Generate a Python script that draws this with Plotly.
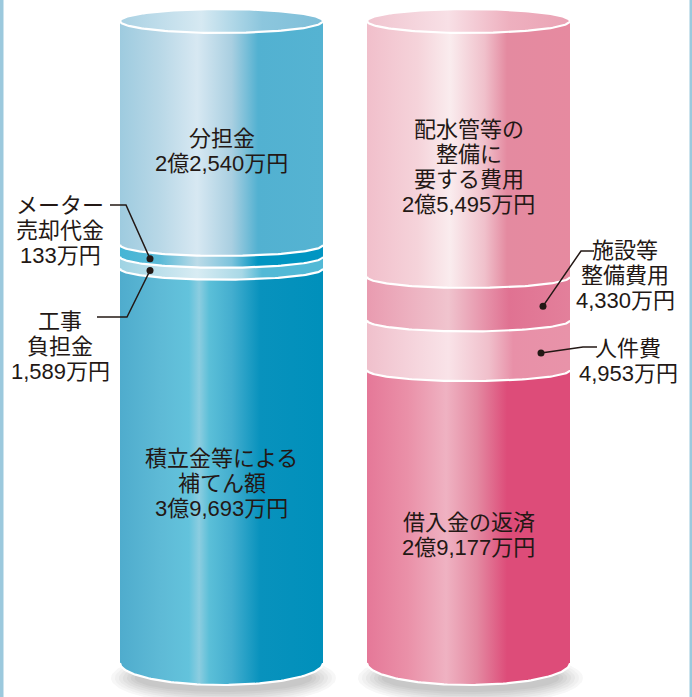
import numpy as np
import plotly.graph_objects as go

# ---------------- data (万円, stacked bottom -> top) ----------------
left_names = ["積立金等による<br>補てん額", "工事<br>負担金", "メーター<br>売却代金", "分担金"]
left_values = [39693, 1589, 133, 22540]
left_place = ["in", "out", "out", "in"]

right_names = ["借入金の返済", "人件費", "施設等<br>整備費用", "配水管等の<br>整備に<br>要する費用"]
right_values = [29177, 4953, 4330, 25495]
right_place = ["in", "out", "out", "in"]

# ---------------- styles ----------------
left_scales = [
    [[0, '#4faccd'], [0.2, '#5ebad6'], [0.34, '#63c3dc'], [0.39, '#8ccde0'], [0.44, '#5bbfd8'],
     [0.55, '#44aecf'], [0.69, '#0892bd'], [1, '#0090bb']],
    [[0, '#9fd3e3'], [0.38, '#d8ecf3'], [0.6, '#a8d8e6'], [0.7, '#52b9d6'], [1, '#52b9d6']],
    [[0, '#45b5d5'], [0.2, '#5bbad7'], [0.38, '#bcdbe8'], [0.55, '#7cc3dc'], [0.68, '#0095c2'], [1, '#0095c2']],
    [[0, '#9ecbdf'], [0.2, '#b9d8e7'], [0.38, '#d7e8f2'], [0.55, '#a9cfe1'], [0.68, '#52b1d1'], [1, '#55b3d2']],
]
left_top_scale = [[0, '#a9d1e3'], [0.4, '#d6e9f2'], [0.7, '#8cc6dd'], [1, '#7fbfd9']]

right_scales = [
    [[0, '#e57898'], [0.2, '#ea90a8'], [0.39, '#efb2c2'], [0.54, '#e48aa2'], [0.69, '#dd4c79'], [1, '#dd4c79']],
    [[0, '#f0c0cc'], [0.4, '#f9e3e8'], [0.6, '#f0bfcb'], [0.72, '#e890a8'], [1, '#e893a9']],
    [[0, '#e99bb0'], [0.4, '#f0c4ce'], [0.7, '#e07292'], [1, '#e3809b']],
    [[0, '#f1bfcb'], [0.25, '#f5d3da'], [0.41, '#faecee'], [0.58, '#f0c0cb'], [0.69, '#e48aa0'], [1, '#e68aa0']],
]
right_top_scale = [[0, '#f0c4cf'], [0.4, '#f8e0e6'], [0.7, '#eeb0bf'], [1, '#eaa3b5']]

W, H = 692, 697
TOP_PX, BOT_PX = 21, 663
R = 101.5
LEFT_CX, RIGHT_CX = 221.5, 468.5
D_TOP, D_MID, D_BOT = 12, 11, 22          # ellipse depths (px)
FONT = "Liberation Sans, Noto Sans CJK JP"
FSIZE = 22
LINE_PX = 25
TXT = "#231815"

total = float(sum(left_values))
k = total / (BOT_PX - TOP_PX)             # value units per pixel
def Y(px):
    return (BOT_PX - px) * k


def fmt(v):
    if v >= 10000:
        return f"{v // 10000}億{v % 10000:,}万円"
    return f"{v:,}万円"


def display_heights(values):
    tot = sum(values)
    band = 0.0185 * tot
    small = [v < 0.05 * tot for v in values]
    big_sum = sum(v for v, s in zip(values, small) if not s)
    rest = tot - band * sum(small)
    return [band if s else v * rest / big_sum for v, s in zip(values, small)]


# leader label layout (px): text centre, knee, end of horizontal tick
callouts = {
    ("L", 1): dict(text=(60, 346), knee=(127, 317), end=(97, 317), dotx=150),
    ("L", 2): dict(text=(60, 230), knee=(126, 205), end=(110, 205), dotx=150),
    ("R", 1): dict(text=(628, 361), knee=(583, 347), end=(597, 347), dotx=541),
    ("R", 2): dict(text=(625, 275), knee=(581, 251), end=(594, 251), dotx=543),
}

fig = go.Figure()
annotations = []
theta = np.linspace(np.pi, 0, 91)


def add_text(x, cy_px, text):
    lines = text.split("<br>")
    n = len(lines)
    for j, ln in enumerate(lines):
        ypx = cy_px + (j - (n - 1) / 2) * LINE_PX
        annotations.append(dict(x=x, y=Y(ypx), xref="x", yref="y", text=ln,
                                showarrow=False, xanchor="center", yanchor="middle",
                                font=dict(family=FONT, size=FSIZE, color=TXT)))


def front_arc(cx, yc, d):
    return cx + R * np.cos(theta), yc - d * k * np.sin(theta)


def draw_cylinder(side, cx, names, values, places, scales, top_scale):
    hs = display_heights(values)
    bounds = np.concatenate([[0], np.cumsum(hs)])
    # shadow
    scx, scy = cx + 2, Y(678)
    t = np.linspace(0, 2 * np.pi, 121)
    shades = ['#f7f7f7', '#f0f0f0', '#e8e8e8', '#e0e0e0', '#d8d8d8', '#d0d0d0', '#c8c8c8']
    for i, c in enumerate(shades):
        a = (R + 11) * (1 - 0.035 * i)
        b = 27 * (1 - 0.08 * i)
        fig.add_trace(go.Scatter(x=scx + a * np.cos(t), y=scy + b * k * np.sin(t), mode="lines",
                                 fill="toself", fillcolor=c, line=dict(width=0),
                                 hoverinfo="skip", showlegend=False))
    # segments
    n = len(values)
    for i in range(n):
        du = D_TOP if i == n - 1 else D_MID
        dl = D_BOT if i == 0 else D_MID
        xu, yu = front_arc(cx, bounds[i + 1], du)
        xl, yl = front_arc(cx, bounds[i], dl)
        xs = np.concatenate([xu, xl[::-1], xu[:1]])
        ys = np.concatenate([yu, yl[::-1], yu[:1]])
        fig.add_trace(go.Scatter(x=xs, y=ys, mode="lines", fill="toself",
                                 fillgradient=dict(type="horizontal", colorscale=scales[i]),
                                 line=dict(width=0), hoverinfo="skip", showlegend=False))
    # boundary lines
    for i in range(1, n):
        xa, ya = front_arc(cx, bounds[i], D_MID)
        fig.add_trace(go.Scatter(x=xa, y=ya, mode="lines", line=dict(color="white", width=2.2),
                                 hoverinfo="skip", showlegend=False))
    xb, yb = front_arc(cx, bounds[0], D_BOT)
    fig.add_trace(go.Scatter(x=xb, y=yb, mode="lines", line=dict(color="white", width=2.2),
                             hoverinfo="skip", showlegend=False))
    # top face
    t2 = np.linspace(0, 2 * np.pi, 181)
    fig.add_trace(go.Scatter(x=cx + R * np.cos(t2), y=bounds[-1] + D_TOP * k * np.sin(t2),
                             mode="lines", fill="toself",
                             fillgradient=dict(type="horizontal", colorscale=top_scale),
                             line=dict(color="white", width=2.2), hoverinfo="skip", showlegend=False))
    # labels
    for i in range(n):
        txt = f"{names[i]}<br>{fmt(values[i])}"
        mid = (bounds[i] + bounds[i + 1]) / 2
        if places[i] == "in":
            add_text(cx, BOT_PX - mid / k + 18, txt)
        else:
            c = callouts[(side, i)]
            dx = c["dotx"]
            off = D_MID * k * np.sqrt(max(0.0, 1 - ((dx - cx) / R) ** 2))
            dy = mid - off
            fig.add_trace(go.Scatter(x=[dx, c["knee"][0], c["end"][0]],
                                     y=[dy, Y(c["knee"][1]), Y(c["end"][1])],
                                     mode="lines", line=dict(color=TXT, width=1.5),
                                     hoverinfo="skip", showlegend=False))
            fig.add_trace(go.Scatter(x=[dx], y=[dy], mode="markers",
                                     marker=dict(color=TXT, size=7),
                                     hoverinfo="skip", showlegend=False))
            add_text(c["text"][0], c["text"][1], txt)


draw_cylinder("L", LEFT_CX, left_names, left_values, left_place, left_scales, left_top_scale)
draw_cylinder("R", RIGHT_CX, right_names, right_values, right_place, right_scales, right_top_scale)

fig.update_layout(
    width=W, height=H, margin=dict(l=0, r=0, t=0, b=0),
    paper_bgcolor="white", plot_bgcolor="white", showlegend=False,
    xaxis=dict(range=[0, W], visible=False, fixedrange=True),
    yaxis=dict(range=[Y(H), Y(0)], visible=False, fixedrange=True),
    annotations=annotations,
    shapes=[
        dict(type="rect", xref="x", yref="paper", x0=0, x1=3.5, y0=0, y1=1,
             fillcolor="#9cc9dd", line=dict(width=0), layer="above"),
        dict(type="rect", xref="x", yref="paper", x0=689.5, x1=W, y0=0, y1=1,
             fillcolor="#9cc9dd", line=dict(width=0), layer="above"),
    ],
)

fig.write_html("out.html", config={"displayModeBar": False},
               post_script="document.body.style.margin='0px';document.body.style.overflow='hidden';")
